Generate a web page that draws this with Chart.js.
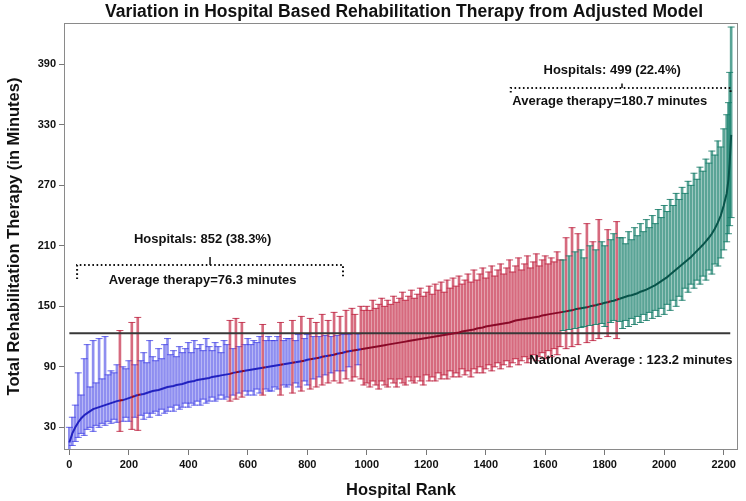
<!DOCTYPE html>
<html>
<head>
<meta charset="utf-8">
<script src="https://cdn.jsdelivr.net/npm/chart.js@4/dist/chart.umd.min.js"></script>
<style>
html,body{margin:0;padding:0;background:#fff}
#wrap{width:746px;height:501px;position:relative}
</style>
</head>
<body>
<div id="wrap"><canvas id="rehabChart"></canvas></div>
<script>
const ranks=[
0,10,20,30,40,50,60,70,80,90,
100,110,120,130,140,150,160,170,180,190,
200,210,220,230,240,250,260,270,280,290,
300,310,320,330,340,350,360,370,380,390,
400,410,420,430,440,450,460,470,480,490,
500,510,520,530,540,550,560,570,580,590,
600,610,620,630,640,650,660,670,680,690,
700,710,720,730,740,750,760,770,780,790,
800,810,820,830,840,850,860,870,880,890,
900,910,920,930,940,950,960,970,980,990,
1000,1010,1020,1030,1040,1050,1060,1070,1080,1090,
1100,1110,1120,1130,1140,1150,1160,1170,1180,1190,
1200,1210,1220,1230,1240,1250,1260,1270,1280,1290,
1300,1310,1320,1330,1340,1350,1360,1370,1380,1390,
1400,1410,1420,1430,1440,1450,1460,1470,1480,1490,
1500,1510,1520,1530,1540,1550,1560,1570,1580,1590,
1600,1610,1620,1630,1640,1650,1660,1670,1680,1690,
1700,1710,1720,1730,1740,1750,1760,1770,1780,1790,
1800,1810,1820,1830,1840,1850,1860,1870,1880,1890,
1900,1910,1920,1930,1940,1950,1960,1970,1980,1990,
2000,2010,2020,2030,2040,2050,2060,2070,2080,2090,
2100,2110,2120,2130,2140,2150,2160,2170,2180,2190,
2200,2210,2216,2220,2225];

// adjusted mean therapy minutes
const means=[
15,24,30,35,39,42,44,46,48,49,
50,51,52,53,54,55,56,56.5,57,58,
59,60,61,62,62.5,63,64,65,66,66.5,
67,68,69,70,70.5,71,72,72.5,73,74,
75,75.5,76,77,77.5,78,78.5,79,80,80.5,
81,81.5,82,82.5,83,84,84.5,85,85.5,86,
86.5,87,87.5,88,88.5,89,89.5,90,90.5,91,
91.5,92,92.5,93,93.5,94,94.5,95,95.5,96,
97,97.5,98,98.5,99,100,100.5,101,101.5,102,
103,103.5,104,105,105.5,106,106.5,107,107.5,108,
108.5,109,109.5,110,110.5,111,111.5,112,112.5,113,
113.5,114,114.5,115,115.5,116,116.5,117,117.5,118,
118.5,119,119.5,120,120.5,121,121.5,122,122.5,123,
123.5,124,125,125.5,126,126.5,127,128,128.5,129,
130,130.5,131,131.5,132,132.5,133,133.5,134,135,
136,136.5,137,137.5,138,138.5,139,139.5,140,141,
141.5,142,142.5,143,143.5,144,144.5,145,145.5,146,
147,147.5,148,148.5,149,150,150.5,151,152,152.5,
153.5,154,155,155.5,156.5,157.5,158.5,159.5,160.5,161,
162,163,164.5,165.5,166.5,168,169.5,171,173,175,
177,179,181.5,184,186.5,189,191.5,194,196.5,199,
202,205,208,211,214.5,218,222,227,233,240,
250,262,276,292,320];

// lower confidence limit
const lower=[
6,12,16,20,24,22,28,30,26,32,
30,34,32,36,34,38,35,26,36,40,
36,28,40,27,42,38,44,40,44,46,
42,48,44,46,50,46,52,48,50,54,
50,54,52,56,52,58,54,56,60,56,
58,62,58,60,56,62,58,64,60,66,
62,66,62,68,64,62,68,66,66,70,
68,62,72,70,72,64,74,70,66,76,
72,68,78,70,80,72,82,74,84,76,
86,74,86,78,90,76,80,92,78,72,
74,70,76,72,68,76,72,70,78,74,
70,78,74,72,80,76,74,80,76,72,
82,76,80,76,84,78,82,78,86,80,
84,80,88,82,86,80,88,84,90,84,
88,92,86,90,94,88,92,96,90,94,
98,92,96,100,94,98,102,96,100,104,
98,106,100,108,102,110,126,108,127,110,
128,112,129,130,114,131,116,132,118,133,
130,120,134,136,118,135,128,136,130,138,
132,140,134,142,136,144,138,146,140,148,
142,152,146,156,150,160,156,168,164,172,
168,176,172,180,176,186,182,192,190,198,
206,214,222,230,238];

// upper confidence limit
const upper=[
30,40,52,84,62,98,112,70,116,74,
118,78,120,82,86,84,92,126,90,88,
96,134,92,139,96,104,94,116,100,96,
108,98,112,118,102,106,100,110,104,108,
114,104,116,108,112,106,118,110,106,114,
110,104,116,112,136,108,138,110,134,112,
118,112,116,114,120,132,116,120,116,116,
120,134,116,118,118,136,116,122,140,118,
122,138,120,134,120,142,121,136,120,144,
121,140,122,146,122,148,142,122.5,150,146,
150,146,156,148,152,158,150,156,152,160,
154,158,164,156,160,166,158,162,168,160,
164,170,162,172,166,174,164,176,168,178,
170,180,172,176,182,174,186,176,182,188,
178,184,190,180,186,192,182,188,196,184,
190,198,186,192,200,188,194,202,190,196,
200,192,198,194,204,196,196,218,200,228,
204,222,206,198,232,210,214,206,236,214,
210,226,216,222,234,218,218,212,224,216,
228,220,232,224,236,228,240,232,246,238,
250,244,256,250,262,256,268,262,274,270,
282,276,288,284,296,292,304,300,314,308,
326,340,352,382,427];

const nationalAvg=123.2;
const xTicks=[0,200,400,600,800,1000,1200,1400,1600,1800,2000,2200];
const yTicks=[30,90,150,210,270,330,390];

const colors={
  blue:{bar:'rgba(60,60,230,0.58)',cap:'rgba(60,60,230,0.75)',line:'#2222c0'},
  red:{bar:'rgba(195,35,65,0.68)',cap:'rgba(185,30,60,0.8)',line:'#8a0a28'},
  teal:{bar:'rgba(20,125,105,0.7)',cap:'rgba(20,120,100,0.82)',line:'#08544a'}
};
function groupOf(i){
  if(upper[i]<nationalAvg) return 'blue';
  if(lower[i]>nationalAvg) return 'teal';
  return 'red';
}

const notes=[
  {text:'Hospitals: 852 (38.3%)',x:448,y:216},
  {text:'Average therapy=76.3 minutes',x:448,y:176},
  {text:'Hospitals: 499 (22.4%)',x:1825,y:384},
  {text:'Average therapy=180.7 minutes',x:1817,y:353},
  {text:'National Average : 123.2 minutes',x:1888,y:96.5}
];

const datasets=[];
datasets.push({type:'line',data:ranks.map((r,i)=>({x:r,y:means[i]})),borderWidth:2,pointRadius:0,
  segment:{borderColor:c=>colors[groupOf(c.p0DataIndex)].line},borderColor:'#333',order:0});
datasets.push({type:'line',data:[{x:0,y:nationalAvg},{x:2222,y:nationalAvg}],borderColor:'#383838',borderWidth:2,pointRadius:0,order:0});
// brackets
datasets.push({type:'line',data:[{x:26,y:177},{x:26,y:191},{x:920,y:191},{x:920,y:177}],borderColor:'#111',borderWidth:2,borderDash:[1.6,2.6],pointRadius:0,order:0});
datasets.push({type:'line',data:[{x:473,y:191},{x:473,y:199}],borderColor:'#111',borderWidth:1.5,pointRadius:0,order:0});
datasets.push({type:'line',data:[{x:1484,y:362},{x:1484,y:366.6},{x:2223,y:366.6},{x:2223,y:362}],borderColor:'#111',borderWidth:2,borderDash:[1.6,2.6],pointRadius:0,order:0});
datasets.push({type:'line',data:[{x:1858,y:366.6},{x:1858,y:371}],borderColor:'#111',borderWidth:1.5,pointRadius:0,order:0});

const orderOf={teal:1,red:2,blue:3};
['teal','red','blue'].forEach(g=>{
  const idx=ranks.map((r,i)=>i).filter(i=>groupOf(i)===g);
  datasets.push({type:'bar',data:idx.map(i=>({x:ranks[i],y:[lower[i],upper[i]]})),
    backgroundColor:colors[g].bar,borderWidth:0,barThickness:2,grouped:false,order:orderOf[g]});
  const caps=[];
  idx.forEach(i=>{caps.push({x:ranks[i],y:lower[i]});caps.push({x:ranks[i],y:upper[i]});});
  datasets.push({type:'scatter',data:caps,pointStyle:'line',pointRadius:3.5,borderWidth:1,
    borderColor:colors[g].cap,backgroundColor:colors[g].cap,order:orderOf[g]});
});

const decor={
  id:'decor',
  afterDraw(chart){
    const {ctx,chartArea:a,scales:{x,y}}=chart;
    ctx.save();
    ctx.strokeStyle='#8a8a8a';ctx.lineWidth=1;
    ctx.strokeRect(a.left+0.5,a.top+0.5,a.right-a.left-1,a.bottom-a.top-1);
    ctx.fillStyle='#111';
    ctx.font='bold 13px Arial, "Liberation Sans", sans-serif';
    ctx.textAlign='center';ctx.textBaseline='middle';
    notes.forEach(n=>ctx.fillText(n.text,x.getPixelForValue(n.x),y.getPixelForValue(n.y)));
    ctx.font='bold 17.5px Arial, "Liberation Sans", sans-serif';
    ctx.fillText('Variation in Hospital Based Rehabilitation Therapy from Adjusted Model',404,12);
    ctx.restore();
  }
};

new Chart(document.getElementById('rehabChart'),{
  type:'bar',
  data:{datasets:datasets},
  options:{
    responsive:true,maintainAspectRatio:false,animation:false,events:[],
    layout:{padding:{top:23,right:8,left:0,bottom:0}},
    plugins:{legend:{display:false},tooltip:{enabled:false},title:{display:false}},
    scales:{
      x:{type:'linear',min:-18,max:2248,offset:false,
        afterBuildTicks:s=>{s.ticks=xTicks.map(v=>({value:v}));},
        afterFit:s=>{s.height=51;},
        ticks:{color:'#111',font:{size:11,weight:'bold',family:'Arial'},padding:3,maxRotation:0,autoSkip:false,callback:v=>String(v)},
        grid:{drawOnChartArea:false,offset:false,tickLength:5,color:'#777'},
        border:{display:false},
        title:{display:true,text:'Hospital Rank',color:'#111',font:{size:16.5,weight:'bold',family:'Arial'},padding:{top:0,bottom:1}}
      },
      y:{type:'linear',min:7.5,max:431,
        afterBuildTicks:s=>{s.ticks=yTicks.map(v=>({value:v}));},
        afterFit:s=>{s.width=64;},
        ticks:{color:'#111',font:{size:11,weight:'bold',family:'Arial'},padding:3,autoSkip:false},
        grid:{drawOnChartArea:false,tickLength:5,color:'#777'},
        border:{display:false},
        title:{display:true,text:'Total Rehabilitation Therapy (in Minutes)',color:'#111',font:{size:16.5,weight:'bold',family:'Arial'},padding:{top:5,bottom:0}}
      }
    }
  },
  plugins:[decor]
});
</script>
</body>
</html>
